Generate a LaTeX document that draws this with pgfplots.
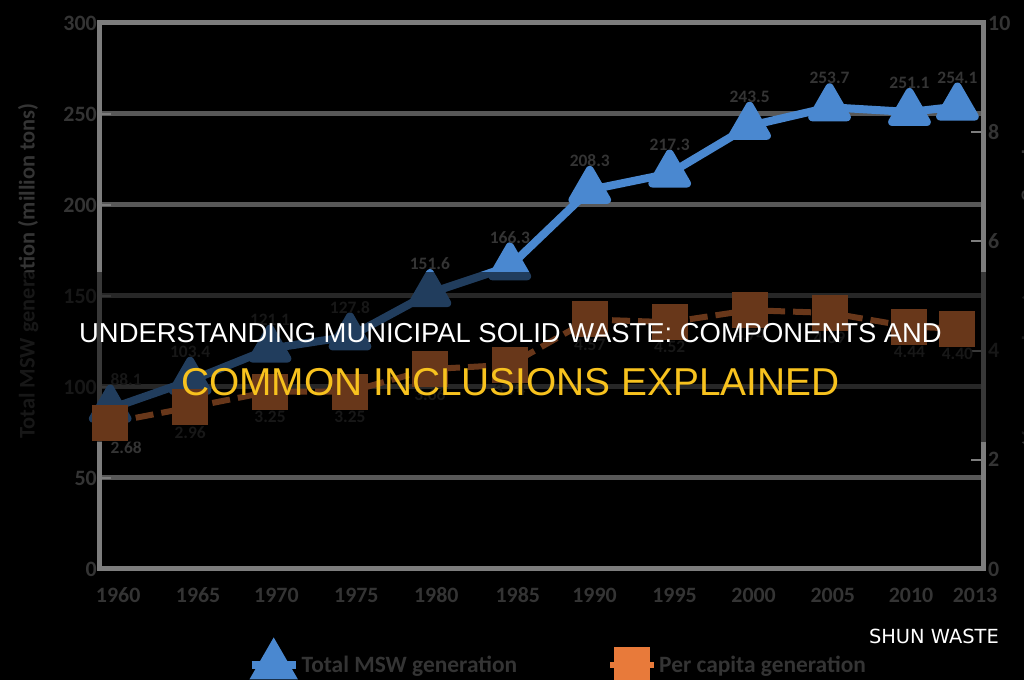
\documentclass[border=0pt]{standalone}
\usepackage{pgfplots}
\usepackage{pgfplotstable}
\pgfplotsset{compat=1.18}
\usepackage{fontspec}
\setmainfont{Carlito}
\newfontfamily\titlefont{Liberation Sans}
\newfontfamily\wmfont{DejaVu Sans}
\definecolor{bluel}{RGB}{74,136,208}
\definecolor{orangel}{RGB}{232,122,58}
\definecolor{gridc}{RGB}{88,88,88}
\definecolor{framec}{RGB}{125,125,125}
\definecolor{txtc}{RGB}{52,52,52}
\definecolor{titley}{RGB}{247,194,30}

\pgfplotstableread{
year total percap
1960 88.1 2.68
1965 103.4 2.96
1970 121.1 3.25
1975 127.8 3.25
1980 151.6 3.66
1985 166.3 3.74
1990 208.3 4.57
1995 217.3 4.52
2000 243.5 4.74
2005 253.7 4.69
2010 251.1 4.44
2013 254.1 4.40
}\msw

\begin{document}
\begin{tikzpicture}[x=1bp,y=1bp]
\fill[black] (0,0) rectangle (1024,680);
\path[use as bounding box] (0,0) rectangle (1024,680);
\begin{axis}[
  at={(99bp,111bp)}, anchor=south west,
  scale only axis, width=884bp, height=546bp,
  xmin=1959.3, xmax=2014.6, ymin=0, ymax=300,
  clip=false,
  axis line style={draw=framec, line width=5bp},
  ytick={0,50,...,300},
  ymajorgrids, major grid style={draw=gridc, line width=5bp},
  xtick={1960.5,1965.5,1970.4,1975.4,1980.4,1985.5,1990.3,1995.3,2000.25,2005.2,2010.1,2014.1},
  xticklabels={1960,1965,1970,1975,1980,1985,1990,1995,2000,2005,2010,2013},
  xtick pos=bottom, ytick pos=left,
  xtick style={draw=none},
  ytick style={draw=framec, line width=2bp},
  major tick length=12bp, tick align=inside,
  /pgf/number format/assume math mode=true,
  ticklabel style={font=\fontsize{22}{22}\selectfont\bfseries, text=txtc},
  yticklabel style={inner sep=2bp},
  xticklabel style={anchor=center, yshift=-26bp},
  ylabel={Total MSW generation (million tons)},
  ylabel style={at={(axis description cs:-0.080,0.546)}, anchor=center, font=\fontsize{22.5}{22.5}\selectfont\bfseries, text=txtc},
]
\addplot[bluel, line width=8bp, line join=round, mark=triangle*, mark size=20bp, mark options={solid},
  visualization depends on={\thisrow{year}\as\yr},
  nodes near coords={\pgfmathprintnumber[fixed,fixed zerofill,precision=1]{\pgfplotspointmeta}},
  every node near coord/.append style={font=\fontsize{17.5}{17.5}\selectfont\bfseries, text=txtc, anchor=center, yshift=29bp, xshift={ifthenelse(\yr<1961,16,0)}}]
  table[x=year,y=total]{\msw};
\end{axis}
\begin{axis}[
  at={(99bp,111bp)}, anchor=south west,
  scale only axis, width=884bp, height=546bp,
  xmin=1959.3, xmax=2014.6, ymin=0, ymax=10,
  clip=false,
  axis x line=none,
  axis y line*=right,
  axis line style={draw=framec, line width=5bp},
  y axis line style={-},
  ytick={0,2,...,10},
  ytick style={draw=framec, line width=2bp},
  major tick length=12bp, tick align=inside,
  /pgf/number format/assume math mode=true,
  ticklabel style={font=\fontsize{22}{22}\selectfont\bfseries, text=txtc},
  yticklabel style={anchor=west, inner sep=0bp, xshift=5bp},
  ylabel={Per capita generation (lbs/person/day)},
  ylabel style={at={(axis description cs:1.055,0.546)}, anchor=center, rotate=180, font=\fontsize{22}{22}\selectfont\bfseries, text=txtc},
  legend style={at={(axis description cs:0.519,-0.172)}, anchor=center, draw=none, fill=none,
    legend columns=2, font=\fontsize{23.5}{23.5}\selectfont\bfseries, text=txtc,
    /tikz/every even column/.append style={column sep=88bp}},
  legend image code/.code={\draw[mark repeat=2,mark phase=2,#1] plot coordinates {(0bp,0bp) (22bp,0bp) (44bp,0bp)};},
]
\addlegendimage{bluel, line width=8bp, mark=triangle*, mark size=20bp, mark options={solid}}
\addlegendentry{Total MSW generation}
\addplot[orangel, line width=6bp, dash pattern=on 18bp off 8bp, mark=square*, mark size=15bp, mark options={solid},
  visualization depends on={\thisrow{year}\as\yr},
  nodes near coords={\pgfmathprintnumber[fixed,fixed zerofill,precision=2]{\pgfplotspointmeta}},
  every node near coord/.append style={font=\fontsize{17.5}{17.5}\selectfont\bfseries, text=txtc, anchor=center, yshift=-25bp, xshift={ifthenelse(\yr<1961,16,0)}}]
  table[x=year,y=percap]{\msw};
\addlegendentry{Per capita generation}
\end{axis}
\fill[black, opacity=0.55] (0,238) rectangle (1024,408);
\node[anchor=base, text=white, font=\titlefont\fontsize{27.5}{27.5}\selectfont, inner sep=0] at (510.5,337) {UNDERSTANDING MUNICIPAL SOLID WASTE: COMPONENTS AND};
\node[anchor=base, text=titley, font=\titlefont\fontsize{39}{39}\selectfont, inner sep=0] at (510.5,284) {COMMON INCLUSIONS EXPLAINED};
\node[anchor=base east, text=white, font=\wmfont\fontsize{19.5}{19.5}\selectfont, inner sep=0] at (999,36) {SHUN WASTE};
\end{tikzpicture}
\end{document}
